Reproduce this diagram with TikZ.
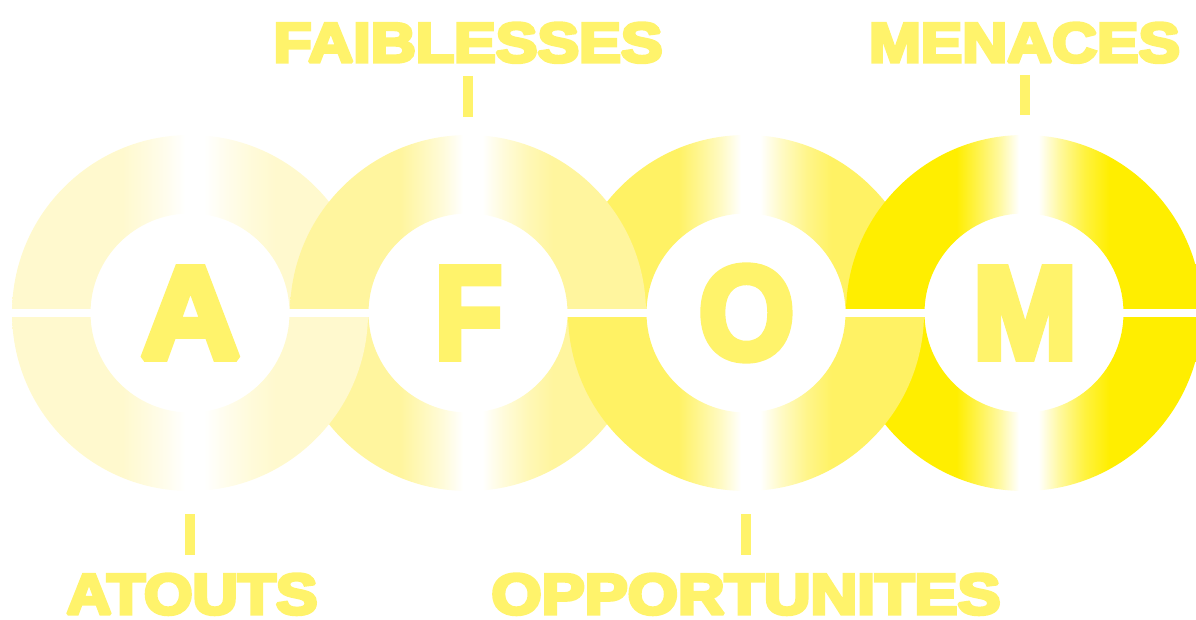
\documentclass[tikz,border=0pt]{standalone}
\usepackage{fontspec}
\usepackage{graphicx}
\newfontfamily\heavy{Liberation Sans Bold}[FakeBold=6]
\definecolor{cA}{HTML}{FFF9CE}
\definecolor{cF}{HTML}{FFF59E}
\definecolor{cO}{HTML}{FFF264}
\definecolor{cM}{HTML}{FFEE00}
\definecolor{txt}{HTML}{FFF36B}
\newcommand\mkringshade[2]{\pgfdeclarehorizontalshading{#1}{100bp}{color(0bp)=(#2); color(40.5bp)=(#2); color(43bp)=(#2!75!white); color(46.5bp)=(#2!38!white); color(49.3bp)=(white); color(52bp)=(white); color(55bp)=(#2!38!white); color(58.5bp)=(#2!75!white); color(62bp)=(#2); color(100bp)=(#2)}}
\mkringshade{shA}{cA}
\mkringshade{shF}{cF}
\mkringshade{shO}{cO}
\mkringshade{shM}{cM}
\newcommand\ringR{178}
\newcommand\ringr{99.5}
\newcommand\upperhalf[2]{\shade[shading=#2] (#1+\ringR,306) arc[start angle=0,end angle=180,radius=\ringR] -- (#1-\ringr,306) arc[start angle=180,end angle=0,radius=\ringr] -- cycle;}
\newcommand\lowerhalf[2]{\shade[shading=#2] (#1-\ringR,306) arc[start angle=180,end angle=360,radius=\ringR] -- (#1+\ringr,306) arc[start angle=360,end angle=180,radius=\ringr] -- cycle;}
\tikzset{
  letter/.style={inner sep=0pt, text=txt},
  label/.style={inner sep=0pt, anchor=base, text=txt},
  tickbar/.style={draw=txt, line width=10pt},
  splitline/.style={draw=white, line width=8pt}
}
\begin{document}
\begin{tikzpicture}[x=1pt,y=1pt]
\useasboundingbox (0,0) rectangle (1196,619);
\clip (0,0) rectangle (1196,619);
% upper halves
\upperhalf{190}{shA}
\upperhalf{746}{shO}
\upperhalf{468}{shF}
\upperhalf{1024}{shM}
% lower halves
\lowerhalf{468}{shF}
\lowerhalf{1024}{shM}
\lowerhalf{190}{shA}
\lowerhalf{746}{shO}
% split line
\coordinate (sl) at (0,306);
\coordinate (sr) at (1196,306);
\draw[splitline] (sl) -- (sr);
\begin{scope}[line join=miter, miter limit=1.5]
% letters
\node[letter] (lA) at (190.5,306) {\resizebox{99pt}{90pt}{\heavy A}};
\node[letter] (lF) at (468.5,306) {\resizebox{67pt}{90pt}{\heavy F}};
\node[letter] (lO) at (746.5,306) {\resizebox{95pt}{92pt}{\heavy O}};
\node[letter] (lM) at (1025,306) {\resizebox{104pt}{90pt}{\heavy M}};
% labels
\node[label] (tF) at (468,557) {\resizebox{389pt}{39pt}{\heavy FAIBLESSES}};
\node[label] (tM) at (1024.5,557) {\resizebox{311pt}{39pt}{\heavy MENACES}};
\node[label] (tA) at (192,5) {\resizebox{251pt}{40pt}{\heavy ATOUTS}};
\node[label] (tO) at (746,5) {\resizebox{509pt}{40pt}{\heavy OPPORTUNITES}};
\end{scope}
% ticks
\coordinate (kF1) at (468,543); \coordinate (kF2) at (468,502);
\coordinate (kM1) at (1025,544); \coordinate (kM2) at (1025,504);
\coordinate (kA1) at (190,105); \coordinate (kA2) at (190,64);
\coordinate (kO1) at (746,105); \coordinate (kO2) at (746,64);
\draw[tickbar] (kF1) -- (kF2);
\draw[tickbar] (kM1) -- (kM2);
\draw[tickbar] (kA1) -- (kA2);
\draw[tickbar] (kO1) -- (kO2);
\end{tikzpicture}
\end{document}
